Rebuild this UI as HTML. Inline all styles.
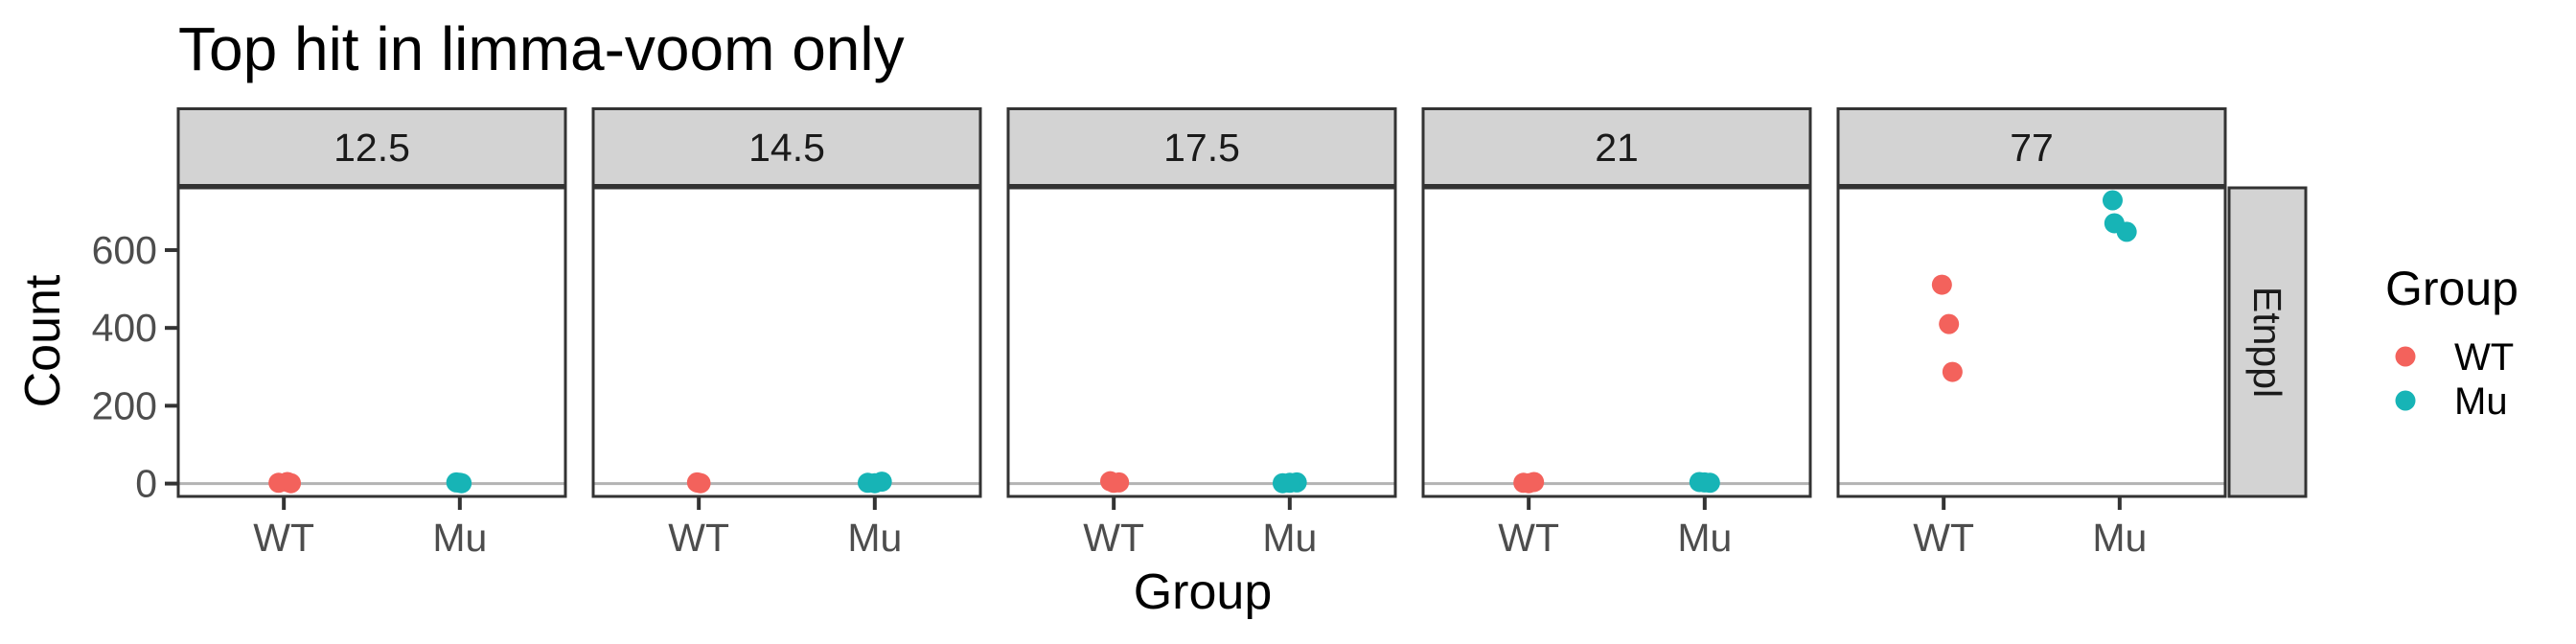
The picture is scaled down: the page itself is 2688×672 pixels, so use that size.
<!DOCTYPE html>
<html><head><meta charset="utf-8"><style>
html,body{margin:0;padding:0;background:#fff}
svg{display:block;font-family:"Liberation Sans",sans-serif}
</style></head><body>
<svg id="chart" width="2688" height="672" viewBox="0 0 2688 672" xmlns="http://www.w3.org/2000/svg">
<text x="186" y="73" font-size="64" fill="#000">Top hit in limma-voom only</text>
<text transform="translate(62,356) rotate(-90)" text-anchor="middle" font-size="52" fill="#000">Count</text>
<text x="1255" y="635" text-anchor="middle" font-size="52" fill="#000">Group</text>
<g id="panels"></g>
<g>
<rect x="2326" y="196" width="80" height="322" fill="#d3d3d3" stroke="#333" stroke-width="3"/>
<text transform="translate(2352,357) rotate(90)" text-anchor="middle" font-size="41" fill="#1a1a1a">Etnppl</text>
</g>
<g>
<text x="2489" y="318" font-size="50" fill="#000">Group</text>
<g><circle cx="2510" cy="372" r="10.5" fill="#F3625C"/><text x="2561" y="386" font-size="40" fill="#000">WT</text></g>
<g><circle cx="2510" cy="418" r="10.5" fill="#17B4B6"/><text x="2561" y="432" font-size="40" fill="#000">Mu</text></g>
</g>
</svg>
<script>
const facets = ["12.5","14.5","17.5","21","77"];
const groups = ["WT","Mu"];
const wtValues = [[2,4,1],[3,1,2],[6,3,2],[2,4,1],[511,410,287]];
const muValues = [[3,1,2],[2,5,1],[1,3,2],[4,2,3],[728,669,647]];
const wtJitter = [[-0.03,0.02,0.04],[-0.01,0.01,0.0],[-0.02,0.03,0.0],[-0.03,0.03,0.0],[-0.01,0.03,0.05]];
const muJitter = [[-0.02,0.01,0.0],[-0.04,0.04,0.0],[-0.04,0.04,0.0],[-0.03,0.03,0.0],[-0.04,-0.03,0.04]];
const yTicks = [0,200,400,600];

const NS = "http://www.w3.org/2000/svg";
const panelLeft0 = 186, panelW = 404, panelGap = 29, panelTop = 196, panelBottom = 518;
const yDomain = [-33, 760];
function yScale(v){ return panelBottom - (v - yDomain[0]) / (yDomain[1]-yDomain[0]) * (panelBottom - panelTop); }
function xScale(p, pos){ return panelLeft0 + p*(panelW+panelGap) + (pos - 0.4) / 2.2 * panelW; }
function mk(tag, attrs, parent){ const e=document.createElementNS(NS,tag); for(const k in attrs) e.setAttribute(k,attrs[k]); parent.appendChild(e); return e; }
const root = document.getElementById('panels');

const yAxis = mk('g',{},root);


yTicks.forEach(t=>{
  const y = yScale(t);
  mk('line',{x1:172,x2:186,y1:y,y2:y,stroke:'#333','stroke-width':4},yAxis);
  const tx = mk('text',{x:164,y:y+14,'text-anchor':'end','font-size':41,fill:'#4d4d4d'},yAxis);
  
  
  tx.textContent = t;
});

facets.forEach((f,p)=>{
  const left = panelLeft0 + p*(panelW+panelGap);
  const g = mk('g',{},root);
  
  
  const s = mk('rect',{x:left,y:113.5,width:panelW,height:80,fill:'#d3d3d3',stroke:'#333','stroke-width':3},g);
  
  
  const st = mk('text',{x:left+panelW/2,y:168,'text-anchor':'middle','font-size':41,fill:'#1a1a1a'},g);
  
  
  st.textContent = f;
  mk('rect',{x:left,y:panelTop,width:panelW,height:panelBottom-panelTop,fill:'#fff'},g);
  const zl = mk('line',{x1:left,x2:left+panelW,y1:yScale(0),y2:yScale(0),stroke:'#b3b3b3','stroke-width':3},g);
  
  
  groups.forEach((gr,i)=>{
    const x = xScale(p, i+1);
    mk('line',{x1:x,x2:x,y1:panelBottom,y2:panelBottom+14,stroke:'#333','stroke-width':4},g);
    const tl = mk('text',{x:x,y:575,'text-anchor':'middle','font-size':41,fill:'#4d4d4d'},g);
    
    
    tl.textContent = gr;
  });
  [[wtValues[p],wtJitter[p],'#F3625C',1,'wt'],[muValues[p],muJitter[p],'#17B4B6',2,'mu']].forEach(([vals,jit,col,pos,nm])=>{
    vals.forEach((v,k)=>{
      const c = mk('circle',{cx:xScale(p,pos+jit[k]),cy:yScale(v),r:10.5,fill:col},g);
      
      
    });
  });
  mk('rect',{x:left,y:panelTop,width:panelW,height:panelBottom-panelTop,fill:'none',stroke:'#333','stroke-width':3},g);
});
</script>
</body></html>
